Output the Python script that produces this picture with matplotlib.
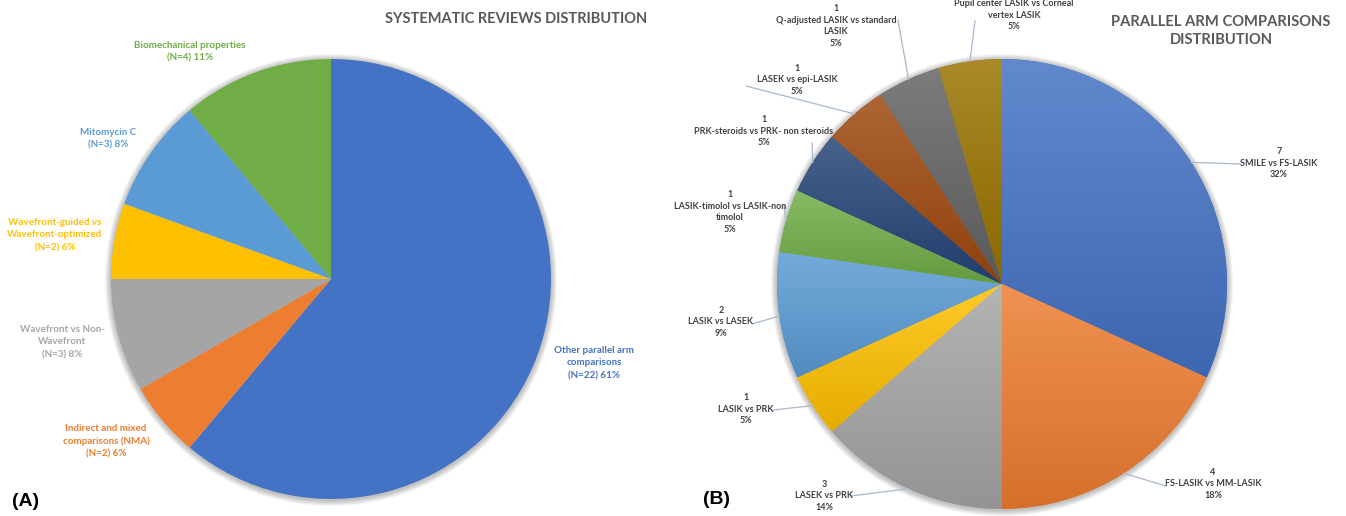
import numpy as np
import matplotlib
matplotlib.use("Agg")
import matplotlib.pyplot as plt
from matplotlib.colors import to_rgb
from matplotlib.patches import Circle

W, H = 1346, 516

# ---- (A) Systematic reviews distribution ----
sr_names = [
    "Other parallel arm\ncomparisons",
    "Indirect and mixed\ncomparisons (NMA)",
    "Wavefront vs Non-\nWavefront",
    "Wavefront-guided vs\nWavefront-optimized",
    "Mitomycin C",
    "Biomechanical properties",
]
sr_counts = [22, 2, 3, 2, 3, 4]
sr_colors = ["#4472C4", "#ED7D31", "#A5A5A5", "#FFC000", "#5B9BD5", "#70AD47"]
sr_label_xy = [(594, 363), (106, 441), (62, 342), (55, 235), (108, 139), (190, 52)]

# ---- (B) Parallel arm comparisons distribution ----
pa_names = [
    "SMILE vs FS-LASIK",
    "FS-LASIK vs MM-LASIK",
    "LASEK vs PRK",
    "LASIK vs PRK",
    "LASIK vs LASEK",
    "LASIK-timolol vs LASIK-non\ntimolol",
    "PRK-steroids vs PRK- non steroids",
    "LASEK vs epi-LASIK",
    "Q-adjusted LASIK vs standard\nLASIK",
    "Pupil center LASIK vs Corneal\nvertex LASIK",
]
pa_counts = [7, 4, 3, 1, 2, 1, 1, 1, 1, 1]
pa_colors = ["#4472C4", "#ED7D31", "#A5A5A5", "#FFC000", "#5B9BD5",
             "#70AD47", "#264478", "#9E480E", "#636363", "#997300"]
pa_label_xy = [(1279, 163), (1213, 484), (824, 496), (746, 409), (721, 322),
               (730, 212), (764, 131), (797, 80), (836, 26), (1014, 15)]
pa_show_count = [True] * 9 + [False]
pa_line_end = [(1241, 164), (1166, 486), (851, 496), (773, 410), (752, 324),
               (784, 206), (812, 143), (746, 86), (898, 20), (975, 21)]

LABEL_FONT = ["Lato", "DejaVu Sans"]


def py(y):
    """Convert a top-down pixel row into the bottom-up data coordinate."""
    return H - y


fig = plt.figure(figsize=(W / 100, H / 100), dpi=100)
ax = fig.add_axes([0, 0, 1, 1])


def draw_shadow(cx, cy, r):
    for k in range(1, 7):
        ax.add_patch(Circle((cx, py(cy) - 1), r + k, facecolor="black",
                            alpha=0.045, edgecolor="none", zorder=0))


def mix(c, other, t):
    c = np.array(to_rgb(c))
    return c * (1 - t) + np.array(other) * t


# Pie A
ca_x, ca_y, ra = 331, 279, 220
draw_shadow(ca_x, ca_y, ra)
ax.pie(sr_counts, colors=sr_colors, startangle=90, counterclock=False,
       center=(ca_x, py(ca_y)), radius=ra, frame=True,
       wedgeprops=dict(linewidth=0, zorder=1))

sr_total = sum(sr_counts)
for name, n, col, (lx, ly) in zip(sr_names, sr_counts, sr_colors, sr_label_xy):
    pct = round(100 * n / sr_total)
    ax.text(lx, py(ly), f"{name}\n(N={n}) {pct}%", ha="center", va="center",
            color=col, fontsize=7.1, fontweight="bold", family=LABEL_FONT,
            linespacing=1.5, zorder=5)

# Pie B (gradient-filled wedges)
cb_x, cb_y, rb = 1002, 284, 225
draw_shadow(cb_x, cb_y, rb)
wedges, _ = ax.pie(pa_counts, colors=pa_colors, startangle=90, counterclock=False,
                   center=(cb_x, py(cb_y)), radius=rb, frame=True,
                   wedgeprops=dict(linewidth=0, zorder=1))
for w, col in zip(wedges, pa_colors):
    ext = w.get_path().get_extents()
    top = mix(col, (1, 1, 1), 0.16)
    bot = mix(col, (0, 0, 0), 0.10)
    t = np.linspace(0, 1, 64)[:, None]
    grad = top[None, :] * (1 - t) + bot[None, :] * t
    img = ax.imshow(grad[:, None, :], extent=(ext.x0, ext.x1, ext.y0, ext.y1),
                    origin="upper", aspect="auto", zorder=2, interpolation="bilinear")
    img.set_clip_path(w)

pa_total = sum(pa_counts)
angle = 90.0
for name, n, show, (lx, ly), (ex, ey) in zip(pa_names, pa_counts, pa_show_count,
                                             pa_label_xy, pa_line_end):
    span = 360.0 * n / pa_total
    mid = np.deg2rad(angle - span / 2)
    angle -= span
    rx = cb_x + rb * np.cos(mid)
    ry = py(cb_y) + rb * np.sin(mid)
    ax.plot([ex, rx], [py(ey), ry], color="#A9B8CC", lw=0.9, zorder=4)
    pct = round(100 * n / pa_total)
    txt = (f"{n}\n" if show else "") + f"{name}\n{pct}%"
    ax.text(lx, py(ly), txt, ha="center", va="center", color="#404040",
            fontsize=6.5, fontweight="bold", family=LABEL_FONT,
            linespacing=1.4, zorder=5)

# Titles and panel letters
ax.text(516, py(19), "SYSTEMATIC REVIEWS DISTRIBUTION", ha="center", va="center",
        color="#595959", fontsize=10.5, fontweight="bold", family=LABEL_FONT)
ax.text(1221, py(31), "PARALLEL ARM COMPARISONS\nDISTRIBUTION", ha="center",
        va="center", color="#595959", fontsize=10.6, fontweight="bold",
        family=LABEL_FONT, linespacing=1.35)
ax.text(12, py(502), "(A)", ha="left", va="center", fontsize=14, fontweight="bold",
        family=["Liberation Sans", "DejaVu Sans"], color="black")
ax.text(703, py(500), "(B)", ha="left", va="center", fontsize=14, fontweight="bold",
        family=["Liberation Sans", "DejaVu Sans"], color="black")

ax.set_xlim(0, W)
ax.set_ylim(0, H)
ax.set_aspect("auto")
ax.axis("off")

fig.savefig("out.png", dpi=100)
